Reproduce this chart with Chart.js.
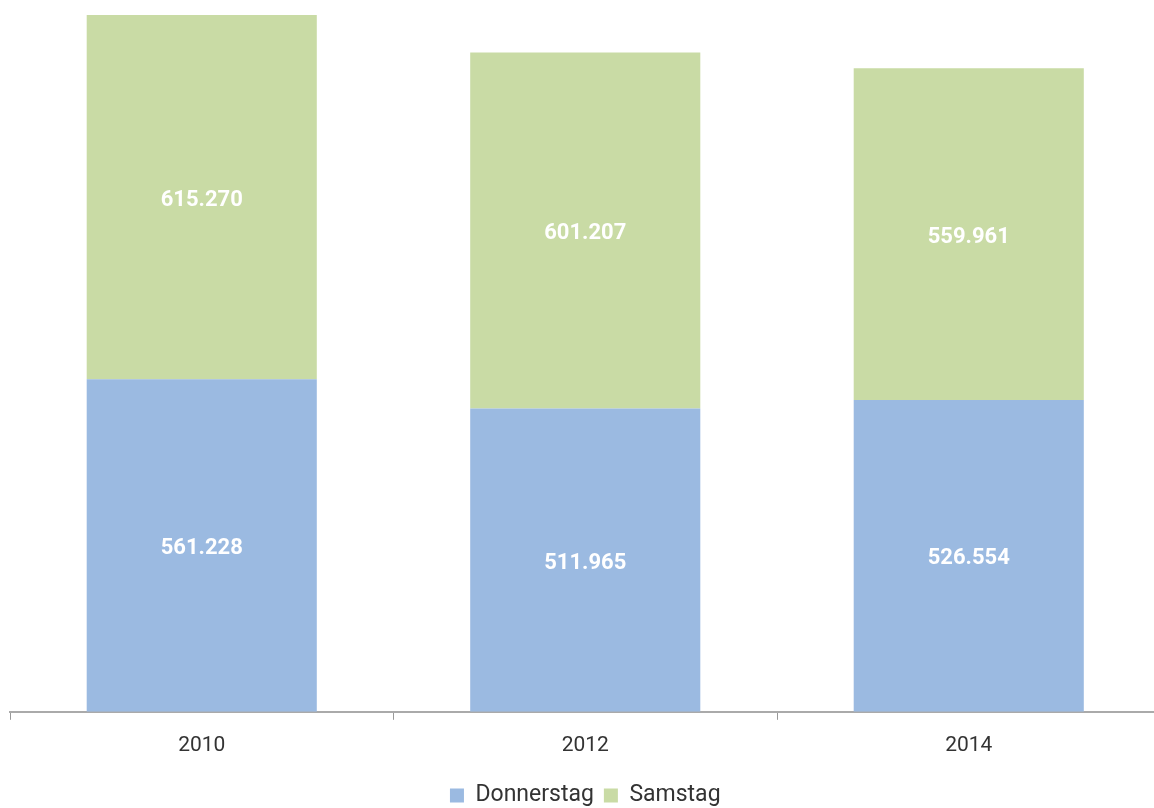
<!DOCTYPE html>
<html>
<head>
<meta charset="utf-8">
<script src="https://cdnjs.cloudflare.com/ajax/libs/Chart.js/4.4.1/chart.umd.js"></script>
<style>
html,body{margin:0;padding:0;background:#fff;overflow:hidden;}
#wrap{width:1170px;height:808px;}
</style>
</head>
<body>
<div id="wrap"><canvas id="c" width="1170" height="808"></canvas></div>
<script>
const years=['2010','2012','2014'];
const donnerstag=[561228,511965,526554];
const samstag=[615270,601207,559961];
const yMax=1200000;

const fmt=v=>v.toLocaleString('de-DE');

// white value labels centred in each segment
const segLabels={
  id:'segLabels',
  afterDatasetsDraw(chart){
    const ctx=chart.ctx;
    ctx.save();
    ctx.fillStyle='#fff';
    ctx.font='bold 22px Roboto';
    ctx.textAlign='center';
    ctx.textBaseline='middle';
    chart.data.datasets.forEach((ds,i)=>{
      chart.getDatasetMeta(i).data.forEach((bar,j)=>{
        const y=(bar.y+bar.base)/2+3;
        ctx.fillText(fmt(ds.data[j]),bar.x,y);
      });
    });
    ctx.restore();
  }
};

new Chart(document.getElementById('c'),{
  type:'bar',
  data:{labels:years,datasets:[
    {label:'Donnerstag',data:donnerstag,backgroundColor:'#9BBAE1',borderWidth:0,barPercentage:0.6,categoryPercentage:1},
    {label:'Samstag',data:samstag,backgroundColor:'#C9DBA5',borderWidth:0,barPercentage:0.6,categoryPercentage:1}
  ]},
  options:{
    responsive:false,animation:false,
    layout:{padding:{left:10,right:9.5,top:1,bottom:-9}},
    plugins:{
      legend:{position:'bottom',labels:{boxWidth:14,boxHeight:14,color:'#333',font:{size:23,family:'Roboto'},padding:10}},
      tooltip:{enabled:false}
    },
    scales:{
      x:{stacked:true,
        ticks:{color:'#333',font:{size:21,family:'Roboto'},padding:13},
        grid:{drawOnChartArea:false,color:'#999',tickLength:8,offset:true},
        border:{color:'#aaa',width:2},
        afterFit(s){s.height+=3;}},
      y:{stacked:true,display:false,min:0,max:yMax}
    }
  },
  plugins:[segLabels]
});
</script>
</body>
</html>
